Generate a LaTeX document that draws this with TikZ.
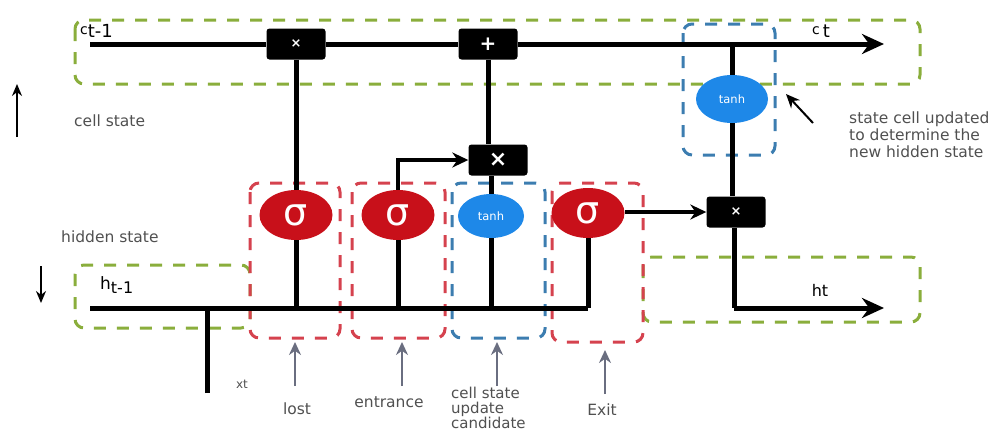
\documentclass[tikz,border=0pt]{standalone}
\usepackage{fontspec}
\setmainfont{DejaVu Sans}
\usetikzlibrary{shapes.geometric,arrows.meta}
\definecolor{gatered}{HTML}{C8101A}
\definecolor{gateblue}{HTML}{1E88E8}
\definecolor{dgreen}{HTML}{8AAE3C}
\definecolor{dred}{HTML}{D5424E}
\definecolor{dblue}{HTML}{3C7DB0}
\definecolor{txtgray}{HTML}{505050}
\definecolor{arrgray}{HTML}{6A6E80}
\tikzset{
  op/.style={fill=black,rounded corners=3pt,minimum width=59pt,minimum height=31pt,text=white,font=\fontsize{13}{13}\selectfont\bfseries,inner sep=0pt},
  sig/.style={ellipse,fill=gatered,minimum width=73pt,minimum height=50pt,text=white,font=\fontsize{38}{38}\selectfont,inner sep=0pt},
  tnh/.style={ellipse,fill=gateblue,minimum width=70pt,minimum height=46pt,text=white,font=\fontsize{11.5}{11.5}\selectfont,inner sep=0pt},
  wire/.style={line width=5pt,black},
  warrow/.style={wire,-{Stealth[length=22pt,width=20pt]}},
  gbox/.style={dgreen,line width=3pt,dash pattern=on 12pt off 11pt,rounded corners=9pt},
  rbox/.style={dred,line width=3pt,dash pattern=on 12pt off 11pt,rounded corners=9pt},
  bbox/.style={dblue,line width=3pt,dash pattern=on 12pt off 11pt,rounded corners=9pt},
  lbl/.style={text=txtgray,font=\fontsize{15.5}{17}\selectfont,inner sep=0pt},
  garrow/.style={arrgray,line width=2.6pt,-{Stealth[length=13pt,width=12pt]}},
}
\begin{document}
\begin{tikzpicture}[x=1pt,y=-1pt]
\useasboundingbox (0,0) rectangle (1002,434);
% dashed boxes
\draw[gbox] (75,20) rectangle (920,84);
\draw[gbox] (75,265) rectangle (250,328);
\draw[gbox] (643,257) rectangle (920,322);
\draw[rbox] (250,183) rectangle (340,338);
\draw[rbox] (352,183) rectangle (445,338);
\draw[bbox] (452,183) rectangle (545,338);
\draw[rbox] (552,183) rectangle (643,342);
\draw[bbox] (683,24) rectangle (775,155);
% nodes
\coordinate (cin) at (90,44);
\coordinate (cout) at (884,44);
\node[op] (fx) at (296,44) {×};
\node[op] (plus) at (488,44) {\fontsize{20}{20}\selectfont +};
\node[op] (ix) at (498,160) {\fontsize{22}{22}\selectfont ×};
\node[op] (ox) at (736,212) {×};
\node[tnh,minimum width=72pt,minimum height=48pt] (tc) at (732,99) {tanh};
\node[sig] (fg) at (296,215) {σ};
\node[sig] (ig) at (398,215) {σ};
\node[tnh,minimum width=66pt,minimum height=44pt] (cg) at (491,216) {tanh};
\node[sig] (og) at (588,213) {σ};
\coordinate (hin) at (90,308);
\coordinate (hend) at (588,308);
\coordinate (hcorner) at (734,308);
\coordinate (hout) at (884,308);
\coordinate (xbot) at (207,393);
\coordinate (xtop) at (207,308);
\coordinate (tcup) at (732,44);
% wires
\draw[wire] (cin) -- (fx) -- (plus);
\draw[warrow] (plus) -- (cout);
\draw[wire] (fx) -- (fg);
\draw[wire] (plus.south) -- (plus.south|-ix.north);
\draw[wire] (cg.north) -- (cg.north|-ix.south);
\draw[wire] (tcup) -- (tc);
\draw[wire] (tc.south) -- (tc.south|-ox.north);
\draw[wire] (hin) -- (hend);
\draw[wire] (xbot) -- (xtop);
\draw[wire] (fg) -- (fg|-hin);
\draw[wire] (ig) -- (ig|-hin);
\draw[wire] (cg) -- (cg|-hin);
\draw[wire] (og) -- (og|-hin);
\draw[wire,-{Stealth[length=16pt,width=15pt]},line width=3.5pt] (ig.north) -- (398,160) -- (ix.west);
\draw[wire,-{Stealth[length=16pt,width=15pt]},line width=3.5pt] (og.east|-ox.west) -- (ox.west);
\draw[wire] (ox.south-|hcorner) -- (hcorner);
\draw[warrow] (hcorner) -- (hout);
% labels
\node[lbl,anchor=west,text=black,font=\fontsize{18}{18}\selectfont] (ctm) at (80,31) {\raisebox{3pt}{\fontsize{14}{14}\selectfont c}t-1};
\node[lbl,anchor=west,text=black,font=\fontsize{18}{18}\selectfont] (ct) at (812,31) {\raisebox{3pt}{\fontsize{14}{14}\selectfont c}\,t};
\node[lbl,anchor=west,text=black,font=\fontsize{17}{17}\selectfont] (htm) at (100,285) {h\raisebox{-4pt}{\fontsize{16}{16}\selectfont t-1}};
\node[lbl,text=black,font=\fontsize{16}{16}\selectfont] (ht) at (820,290) {ht};
\node[lbl] (xt) at (242,384) {\fontsize{12}{12}\selectfont xt};
\node[lbl,anchor=west] (cs) at (74,121) {cell state};
\node[lbl,anchor=west] (hs) at (61,237) {hidden state};
\node[lbl,anchor=north west,align=left] (upd) at (849,112) {state cell updated\\to determine the\\new hidden state};
\coordinate (upa) at (17,137);
\coordinate (upb) at (17,84);
\draw[line width=1.8pt,-{Stealth[length=12pt,width=10pt]}] (upa) -- (upb);
\coordinate (dna) at (41,266);
\coordinate (dnb) at (41,303);
\draw[line width=1.8pt,-{Stealth[length=12pt,width=10pt]}] (dna) -- (dnb);
\coordinate (na) at (813,123);
\coordinate (nb) at (786,94);
\draw[line width=2pt,-{Stealth[length=14pt,width=12pt]}] (na) -- (nb);
% bottom labels
\node[lbl] (lost) at (297,409) {lost};
\node[lbl] (ent) at (389,402) {entrance};
\node[lbl,anchor=north west,align=left,font=\fontsize{15}{15}\selectfont] (cand) at (451,387) {cell state\\update\\candidate};
\node[lbl] (exit) at (602,410) {Exit};
\draw[garrow] (295,386) -- (295,342);
\draw[garrow] (402,386) -- (402,342);
\draw[garrow] (497,386) -- (497,342);
\draw[garrow] (605,394) -- (605,350);
\end{tikzpicture}
\end{document}
